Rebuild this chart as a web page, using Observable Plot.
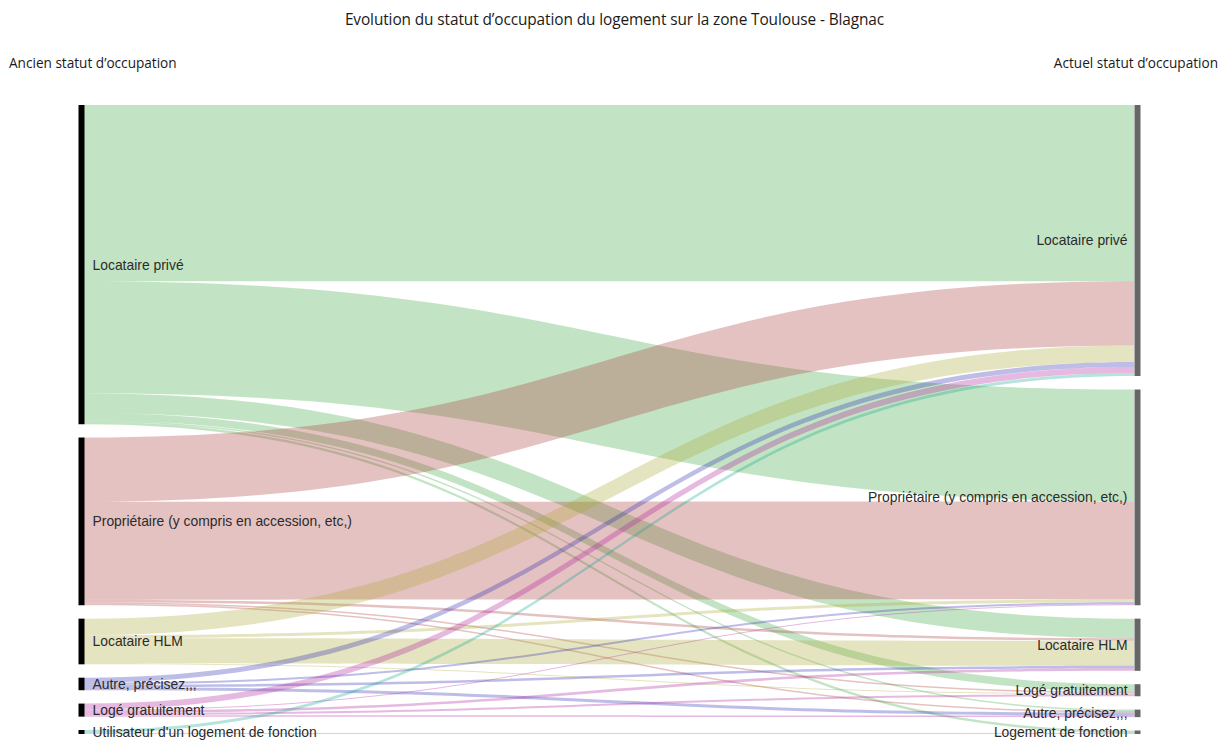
<!DOCTYPE html>
<html>
<head>
<meta charset="utf-8">
<script src="https://cdn.jsdelivr.net/npm/d3@7"></script>
<script src="https://cdn.jsdelivr.net/npm/@observablehq/plot@0.6"></script>
<style>
  html, body { margin: 0; padding: 0; background: #fff; }
  body { width: 1229px; height: 740px; position: relative; overflow: hidden; font-family: "Open Sans", sans-serif; color: #1a1a1a; }
  #title { position: absolute; top: 9px; left: 0; width: 1229px; text-align: center; font-size: 15.4px; letter-spacing: -0.1px; }
  #hleft { position: absolute; top: 53px; left: 9px; font-size: 13.6px; }
  #hright { position: absolute; top: 53px; right: 11px; font-size: 13.6px; }
  #chart { position: absolute; top: 90px; left: 0; }
</style>
</head>
<body>
<div id="title">Evolution du statut d’occupation du logement sur la zone Toulouse - Blagnac</div>
<div id="hleft">Ancien statut d’occupation</div>
<div id="hright">Actuel statut d’occupation</div>
<div id="chart"></div>
<script>
// ---- Data ----
const leftNodes = [
  "Locataire privé",
  "Propriétaire (y compris en accession, etc,)",
  "Locataire HLM",
  "Autre, précisez,,,",
  "Logé gratuitement",
  "Utilisateur d'un logement de fonction"
];
const rightNodes = [
  "Locataire privé",
  "Propriétaire (y compris en accession, etc,)",
  "Locataire HLM",
  "Logé gratuitement",
  "Autre, précisez,,,",
  "Logement de fonction"
];
// flows: index in leftNodes -> index in rightNodes
const linkSource = [0, 0, 0, 0, 0, 0,   1, 1, 1, 1, 1,   2, 2, 2, 2,   3, 3, 3, 3,   4, 4, 4, 4, 4,   5, 5];
const linkTarget = [0, 1, 2, 3, 4, 5,   0, 1, 2, 3, 4,   0, 1, 2, 3,   0, 1, 2, 4,   0, 1, 2, 3, 4,   0, 5];
const linkValue  = [175.5, 111.5, 19.5, 7.5, 1.5, 2.5,
                    64, 97.5, 2.5, 1.5, 1.5,
                    16.5, 3, 25, 1,
                    5, 2, 2.5, 3,
                    6, 1, 2.5, 2, 1.5,
                    3, 1];
const linkColors = ["#37a53a", "#a83434", "#a8a52d", "#2626b2", "#ac169b", "#05a58a"];
const nodePadding = 13.3;

// ---- Layout (two-column sankey) ----
const links = linkValue.map((v, i) => ({id: i, s: linkSource[i], t: linkTarget[i], value: v}));
function column(names, key, stage) {
  let y = 0;
  return names.map((name, i) => {
    const total = d3.sum(links.filter(l => l[key] === i), l => l.value);
    const node = {name, stage, y0: y, y1: y + total};
    node.mid = (node.y0 + node.y1) / 2;
    y += total + nodePadding;
    return node;
  });
}
const left = column(leftNodes, "s", 0);
const right = column(rightNodes, "t", 1);
const yMax = Math.max(d3.max(left, d => d.y1), d3.max(right, d => d.y1));

left.forEach((n, i) => {
  let y = n.y0;
  links.filter(l => l.s === i).sort((a, b) => a.t - b.t).forEach(l => { l.sy0 = y; y += l.value; l.sy1 = y; });
});
right.forEach((n, i) => {
  let y = n.y0;
  links.filter(l => l.t === i).sort((a, b) => a.s - b.s).forEach(l => { l.ty0 = y; y += l.value; l.ty1 = y; });
});
const ribbons = links.flatMap(l => [
  {id: l.id, src: leftNodes[l.s], x: 0, y0: l.sy0, y1: l.sy1},
  {id: l.id, src: leftNodes[l.s], x: 1, y0: l.ty0, y1: l.ty1}
]);

const labelFont = "'Liberation Sans', Arial, sans-serif";
const chart = Plot.plot({
  width: 1229,
  height: 650,
  marginTop: 15,
  marginBottom: 6,
  marginLeft: 84,
  marginRight: 95,
  x: {domain: [0, 1], axis: null},
  y: {domain: [0, yMax], reverse: true, axis: null},
  color: {domain: leftNodes, range: linkColors},
  style: {fontFamily: labelFont, background: "#fff"},
  marks: [
    Plot.areaY(ribbons, {x: "x", y1: "y0", y2: "y1", z: "id", fill: "src", fillOpacity: 0.3, curve: "bump-x"}),
    Plot.ruleX(left, {x: "stage", y1: "y0", y2: "y1", stroke: "#000", strokeWidth: 6, dx: -3}),
    Plot.ruleX(right, {x: "stage", y1: "y0", y2: "y1", stroke: "#666", strokeWidth: 6, dx: 3}),
    Plot.text(left, {x: "stage", y: "mid", text: "name", textAnchor: "start", dx: 8, fontSize: 13.9, fill: "#2b2b2b"}),
    Plot.text(right, {x: "stage", y: "mid", text: "name", textAnchor: "end", dx: -7, fontSize: 13.9, fill: "#2b2b2b"})
  ]
});
document.getElementById("chart").appendChild(chart);
</script>
</body>
</html>
